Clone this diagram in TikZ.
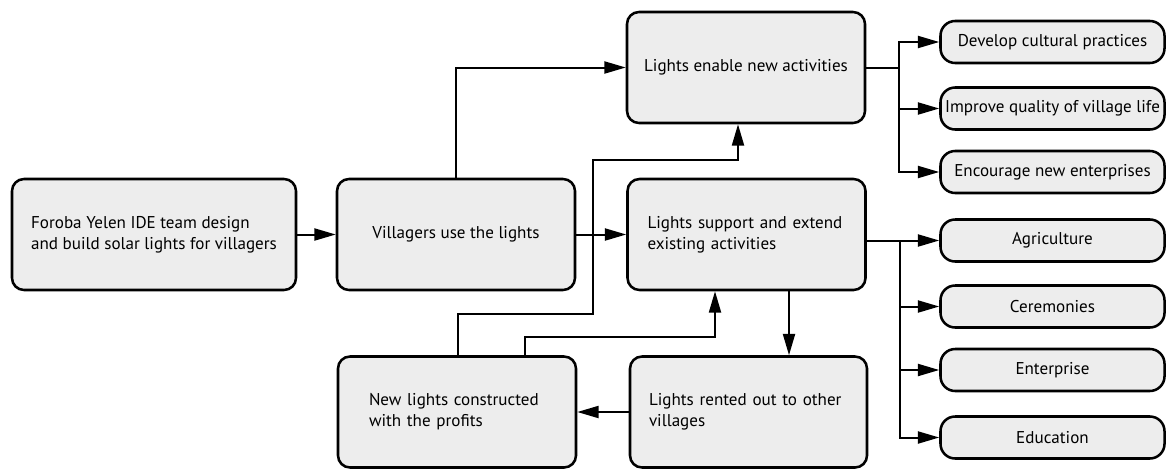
\documentclass[tikz,border=0pt]{standalone}
\usepackage{fontspec}
\setmainfont{PT Sans}
\usetikzlibrary{arrows.meta,calc}
\definecolor{boxfill}{RGB}{237,237,237}
\hyphenpenalty=10000
\exhyphenpenalty=10000
\begin{document}
\begin{tikzpicture}[x=0.75pt,y=-0.75pt,
  box/.style={draw=black, line width=1.9pt, fill=boxfill, rounded corners=9pt,
    font=\fontsize{12.8}{15.7}\selectfont, align=left, inner ysep=0pt,
    minimum height=83.25pt},
  small/.style={draw=black, line width=1.9pt, fill=boxfill, rounded corners=11pt,
    minimum width=168pt, minimum height=31.5pt, inner sep=0pt,
    font=\fontsize{12.8}{15.7}\selectfont, align=center},
  conn/.style={line width=1.5pt},
  arr/.style={conn, -{Triangle[length=16pt,width=9pt]}}]
\useasboundingbox (0,0) rectangle (1166,468);

% main boxes
\node[box, minimum width=213pt] (A) at (154,234.5)
  {Foroba Yelen IDE team design\\and build solar lights for villagers};
\node[box, minimum width=178.5pt] (B) at (456,234.5)
  {Villagers use the lights};
\node[box, minimum width=178.5pt] (C) at (746,67.5)
  {Lights enable new activities};
\node[box, inner xsep=15pt, text width=148.5pt] (D) at (746.5,234.5)
  {Lights support and extend\\existing activities};
\node[box, inner xsep=14.25pt, text width=149.25pt] (E) at (748.5,412)
  {Lights rented out to other\\villages};
\node[box, inner xsep=23.25pt, text width=132pt] (F) at (457,412)
  {New lights constructed\\with the profits};

% right boxes
\node[small] (dev) at (1052.5,42) {Develop cultural practices};
\node[small] (imp) at (1052.5,108.5) {Improve quality of village life};
\node[small] (enc) at (1052.5,172) {Encourage new enterprises};
\node[small] (agr) at (1052.5,240.5) {Agriculture};
\node[small] (cer) at (1052.5,306.5) {Ceremonies};
\node[small] (ent) at (1052.5,370) {Enterprise};
\node[small] (edu) at (1052.5,437.5) {Education};

% helper coordinates
\coordinate (cb) at (899,67.5);
\coordinate (db) at (900,240.5);
\coordinate (de) at (789,0);
\coordinate (p1) at (458,314);
\coordinate (p2) at (593,160);
\coordinate (p3) at (738,0);
\coordinate (q1) at (525,337);
\coordinate (q2) at (715,0);

% connectors
\draw[arr] (A.east) -- (B.west);
\draw[arr] (B.north) |- (C.west);
\draw[arr] (B.east) -- (D.west);

\draw[conn] (C.east) -- (cb);
\draw[arr] (cb) |- (dev.west);
\draw[arr] (cb) |- (imp.west);
\draw[arr] (cb) |- (enc.west);

\draw[arr] (D.east |- agr.west) -- (agr.west);
\draw[arr] (db) |- (cer.west);
\draw[arr] (db) |- (ent.west);
\draw[arr] (db) |- (edu.west);

\draw[arr] (D.south -| de) -- (E.north -| de);
\draw[arr] (E.west) -- (F.east |- E.west);

\draw[arr] (F.north -| p1) -- (p1) -| (p2) -| (C.south -| p3);
\draw[arr] (F.north -| q1) -- (q1) -| (D.south -| q2);
\end{tikzpicture}
\end{document}
